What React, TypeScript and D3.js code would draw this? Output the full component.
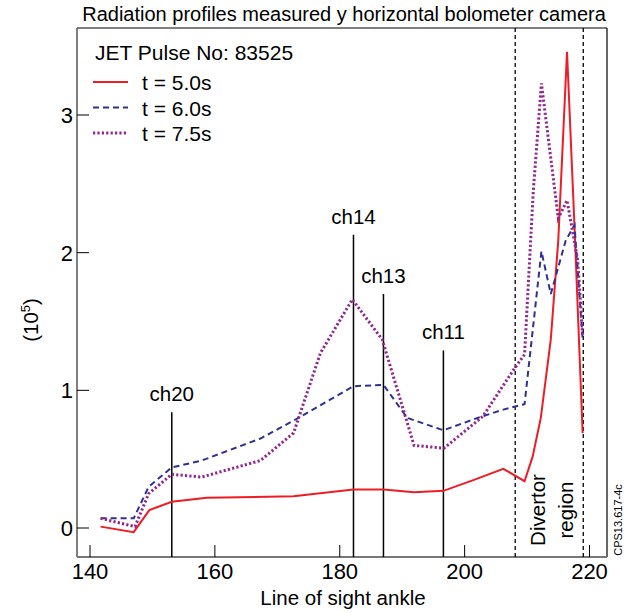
import React from "react";
import * as d3 from "d3";

const titleText = "Radiation profiles measured y horizontal bolometer camera";
const pulseLabel = "JET Pulse No: 83525";
const xLabel = "Line of sight ankle";
const xTicks = [140, 160, 180, 200, 220];
const yTicks = [0, 1, 2, 3];

const x50 = [141.7, 147.0, 149.5, 153.1, 158.7, 172.6, 182.2, 187.0, 191.9, 196.6, 201.5, 206.2, 209.6, 210.9, 212.2, 213.8, 215.0, 216.4, 217.6, 218.9];
const y50 = [0.01, -0.03, 0.13, 0.19, 0.22, 0.23, 0.28, 0.28, 0.26, 0.27, 0.35, 0.43, 0.34, 0.52, 0.80, 1.37, 2.09, 3.46, 2.19, 0.69];

const x60 = [141.7, 147.0, 149.4, 153.1, 157.9, 167.3, 172.6, 182.2, 187.0, 190.8, 196.6, 202.1, 206.2, 209.6, 212.3, 213.8, 216.2, 217.6, 218.9];
const y60 = [0.07, 0.07, 0.30, 0.44, 0.49, 0.65, 0.78, 1.03, 1.04, 0.80, 0.71, 0.80, 0.86, 0.90, 2.01, 1.70, 2.09, 2.20, 1.37];

const x75 = [141.7, 147.2, 149.4, 153.1, 157.9, 167.3, 172.6, 176.9, 182.0, 186.8, 191.9, 196.7, 202.9, 208.0, 209.6, 211.0, 212.3, 215.0, 216.4, 218.1, 218.9];
const y75 = [0.07, 0.01, 0.25, 0.39, 0.37, 0.49, 0.69, 1.27, 1.66, 1.37, 0.60, 0.58, 0.81, 1.16, 1.26, 2.45, 3.23, 2.25, 2.38, 1.95, 1.40];

const channelNames = ["ch20", "ch14", "ch13", "ch11"];
const channelX = [153.1, 182.2, 187.0, 196.6];
const channelTop = [0.84, 2.13, 1.70, 1.29];

const divertorX = [208.1, 219.0];

const seriesNames = ["t = 5.0s", "t = 6.0s", "t = 7.5s"];
const seriesColors = ["#ee1c25", "#2e3192", "#92278f"];

export default function App() {
  const W = 630, H = 613;
  const left = 77, right = 607, top = 28, bottom = 557;
  const x = d3.scaleLinear().domain([140, 220]).range([90, 589.5]);
  const y = d3.scaleLinear().domain([0, 3]).range([528, 115]);
  const line = d3.line<[number, number]>().x(d => x(d[0])).y(d => y(d[1]));
  const mk = (xs: number[], ys: number[]) => xs.map((v, i) => [v, ys[i]] as [number, number]);
  const series = [mk(x50, y50), mk(x60, y60), mk(x75, y75)];
  const dashes = [undefined, "6,4", "2.2,2.2"];
  const widths = [2, 2, 3];
  const font = "Liberation Sans, Arial, Helvetica, sans-serif";

  return (
    <svg width={W} height={H} style={{ position: "absolute", left: 0, top: 0 }} fontFamily={font}>
      <rect x={0} y={0} width={W} height={H} fill="#fff" />
      <text x={344} y={21} textAnchor="middle" fontSize={20}>{titleText}</text>
      {/* frame */}
      <line x1={left} y1={top} x2={right} y2={top} stroke="#000" strokeWidth={1.2} />
      <line x1={right} y1={top} x2={right} y2={bottom} stroke="#000" strokeWidth={1.2} />
      <line x1={left} y1={top} x2={left} y2={bottom} stroke="#555" strokeWidth={1.5} />
      <line x1={left} y1={bottom} x2={right} y2={bottom} stroke="#777" strokeWidth={2} />
      {xTicks.map(t => (
        <g key={"xt" + t}>
          <line x1={x(t)} y1={bottom} x2={x(t)} y2={bottom - 12} stroke="#000" strokeWidth={1} />
          <text x={x(t)} y={bottom + 22} textAnchor="middle" fontSize={22}>{t}</text>
        </g>
      ))}
      {yTicks.map(t => (
        <g key={"yt" + t}>
          <line x1={left} y1={y(t)} x2={left + 12} y2={y(t)} stroke="#000" strokeWidth={1} />
          <text x={left - 4} y={y(t) + 8} textAnchor="end" fontSize={22}>{t}</text>
        </g>
      ))}
      <text x={343} y={605} textAnchor="middle" fontSize={20.5}>{xLabel}</text>
      <text transform={`translate(38,320) rotate(-90)`} textAnchor="middle" fontSize={20.5}>
        (10<tspan dy={-8} fontSize={13}>5</tspan><tspan dy={8}>)</tspan>
      </text>
      {/* divertor lines */}
      {divertorX.map((d, i) => (
        <line key={"dv" + i} x1={x(d)} y1={top} x2={x(d)} y2={bottom} stroke="#000" strokeWidth={1.3} strokeDasharray="4,3" />
      ))}
      <text transform={`translate(545,510) rotate(-90)`} textAnchor="middle" fontSize={20.5}>Divertor</text>
      <text transform={`translate(573,510) rotate(-90)`} textAnchor="middle" fontSize={20.5}>region</text>
      <text transform={`translate(622,520) rotate(-90)`} textAnchor="middle" fontSize={11}>CPS13.617-4c</text>
      {/* channel lines */}
      {channelNames.map((n, i) => (
        <g key={n}>
          <line x1={x(channelX[i])} y1={bottom} x2={x(channelX[i])} y2={y(channelTop[i])} stroke="#000" strokeWidth={1.5} />
          <text x={x(channelX[i])} y={y(channelTop[i]) - 11} textAnchor="middle" fontSize={20.5}>{n}</text>
        </g>
      ))}
      {/* series */}
      {series.map((s, i) => (
        <path key={"s" + i} d={line(s) || ""} fill="none" stroke={seriesColors[i]} strokeWidth={widths[i]} strokeDasharray={dashes[i]} />
      ))}
      {/* legend */}
      <text x={95} y={60} fontSize={21}>{pulseLabel}</text>
      {seriesNames.map((n, i) => (
        <g key={"lg" + i}>
          <line x1={93} x2={128} y1={82 + i * 25.5} y2={82 + i * 25.5} stroke={seriesColors[i]} strokeWidth={widths[i]} strokeDasharray={dashes[i]} />
          <text x={142} y={90 + i * 25.5} fontSize={21}>{n}</text>
        </g>
      ))}
    </svg>
  );
}
